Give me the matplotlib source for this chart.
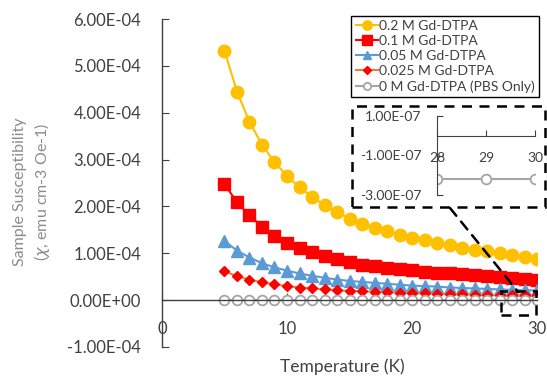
import matplotlib
matplotlib.use('agg')
import matplotlib.pyplot as plt
from matplotlib.patches import Rectangle, ConnectionPatch
from matplotlib.ticker import FuncFormatter

plt.rcParams['font.family'] = ['Lato', 'DejaVu Sans']

# Temperature sweep (K)
temperature = [5, 6, 7, 8, 9, 10, 11, 12, 13, 14, 15, 16, 17,
               18, 19, 20, 21, 22, 23, 24, 25, 26, 27, 28, 29, 30]

# susceptibility, emu cm-3 Oe-1
chi_02 = [5.33e-4, 4.45e-4, 3.81e-4, 3.32e-4, 2.95e-4, 2.65e-4, 2.41e-4, 2.21e-4, 2.03e-4,
          1.88e-4, 1.74e-4, 1.63e-4, 1.55e-4, 1.47e-4, 1.40e-4, 1.33e-4, 1.28e-4, 1.23e-4,
          1.17e-4, 1.12e-4, 1.08e-4, 1.04e-4, 1.01e-4, 0.97e-4, 0.92e-4, 0.87e-4]
chi_01 = [2.48e-4, 2.09e-4, 1.81e-4, 1.57e-4, 1.37e-4, 1.23e-4, 1.11e-4, 1.02e-4, 0.95e-4,
          0.87e-4, 0.81e-4, 0.76e-4, 0.72e-4, 0.69e-4, 0.66e-4, 0.64e-4, 0.61e-4, 0.59e-4,
          0.57e-4, 0.55e-4, 0.53e-4, 0.51e-4, 0.49e-4, 0.47e-4, 0.45e-4, 0.43e-4]
chi_005 = [1.26e-4, 1.06e-4, 0.91e-4, 0.79e-4, 0.70e-4, 0.63e-4, 0.57e-4, 0.52e-4, 0.48e-4,
           0.44e-4, 0.41e-4, 0.39e-4, 0.37e-4, 0.35e-4, 0.33e-4, 0.31e-4, 0.30e-4, 0.29e-4,
           0.27e-4, 0.26e-4, 0.25e-4, 0.24e-4, 0.23e-4, 0.22e-4, 0.21e-4, 0.21e-4]
chi_0025 = [0.62e-4, 0.51e-4, 0.44e-4, 0.38e-4, 0.34e-4, 0.30e-4, 0.27e-4, 0.25e-4, 0.23e-4,
            0.21e-4, 0.20e-4, 0.19e-4, 0.18e-4, 0.17e-4, 0.16e-4, 0.15e-4, 0.145e-4, 0.14e-4,
            0.13e-4, 0.125e-4, 0.12e-4, 0.115e-4, 0.11e-4, 0.11e-4, 0.105e-4, 0.10e-4]
chi_pbs = [-2.2e-7, -2.2e-7, -2.2e-7, -2.2e-7, -2.2e-7, -2.2e-7, -2.2e-7, -2.2e-7, -2.2e-7,
           -2.2e-7, -2.2e-7, -2.2e-7, -2.2e-7, -2.2e-7, -2.2e-7, -2.2e-7, -2.2e-7, -2.2e-7,
           -2.2e-7, -2.2e-7, -2.2e-7, -2.2e-7, -2.2e-7, -2.2e-7, -2.2e-7, -2.2e-7]

labels = ['0.2 M Gd-DTPA', '0.1 M Gd-DTPA', '0.05 M Gd-DTPA',
          '0.025 M Gd-DTPA', '0 M Gd-DTPA (PBS Only)']

dark = '#404040'
sci = FuncFormatter(lambda v, pos: f'{v:.2E}')

fig = plt.figure(figsize=(5.47, 3.83), dpi=100)
ax = fig.add_axes([0.296, 0.094, 0.686, 0.856])

ax.plot(temperature, chi_02, color='#FFC000', lw=1.5, marker='o', ms=9, label=labels[0])
ax.plot(temperature, chi_01, color='#FF0000', lw=1.5, marker='s', ms=9, label=labels[1])
ax.plot(temperature, chi_005, color='#5B9BD5', lw=1.5, marker='^', ms=8.5, label=labels[2])
ax.plot(temperature, chi_0025, color='#ED7D31', lw=1.5, marker='D', ms=5.5,
        mfc='#FF0000', mec='#FF0000', label=labels[3])
ax.plot(temperature, chi_pbs, color='#A5A5A5', lw=1.5, marker='o', ms=7,
        mfc='white', mec='#A5A5A5', mew=1.3, label=labels[4])

ax.set_xlim(0, 30)
ax.set_ylim(-1e-4, 6e-4)
ax.set_xticks([0, 10, 20, 30])
ax.set_yticks([-1e-4, 0, 1e-4, 2e-4, 3e-4, 4e-4, 5e-4, 6e-4])
ax.yaxis.set_major_formatter(sci)
ax.spines['top'].set_visible(False)
ax.spines['right'].set_visible(False)
ax.spines['bottom'].set_position(('data', 0))
for s in ('left', 'bottom'):
    ax.spines[s].set_color(dark)
    ax.spines[s].set_linewidth(1.0)
ax.tick_params(axis='y', direction='in', length=5, color=dark, labelcolor=dark,
               labelsize=12, pad=15)
ax.tick_params(axis='x', direction='in', length=5, color=dark, labelcolor=dark,
               labelsize=12, pad=15)

ax.set_ylabel('Sample Susceptibility\n($\\chi$, emu cm-3 Oe-1)', color='#8c8c8c',
              fontsize=11.5, linespacing=1.35)
ax.yaxis.set_label_coords(-0.292, 0.473)
ax.set_xlabel('Temperature (K)', color=dark, fontsize=12.5)
ax.xaxis.set_label_coords(0.48, -0.035)

leg = ax.legend(loc='upper right', bbox_to_anchor=(546 / 547, 1 - 9 / 383),
                bbox_transform=fig.transFigure, fontsize=10, frameon=True,
                fancybox=False, framealpha=1, handlelength=1.6, handletextpad=0.1,
                borderpad=0.3, labelspacing=0.22, markerscale=0.75)
leg.get_frame().set_edgecolor('black')
leg.get_frame().set_linewidth(1.0)
for t in leg.get_texts():
    t.set_color(dark)

# zoomed view of the PBS-only series
axin = fig.add_axes([437 / 547, 1 - 195 / 383, 98 / 547, 79 / 383])
axin.patch.set_visible(False)
axin.plot(temperature[-3:], chi_pbs[-3:], color='#A5A5A5', lw=1.5, marker='o', ms=7,
          mfc='white', mec='#A5A5A5', mew=1.3)
axin.set_xlim(28, 30)
axin.set_ylim(-3e-7, 1e-7)
axin.set_xticks([28, 29, 30])
axin.set_yticks([1e-7, -1e-7, -3e-7])
axin.yaxis.set_major_formatter(FuncFormatter(lambda v, pos: f'{v:.2E}'))
axin.spines['top'].set_visible(False)
axin.spines['right'].set_visible(False)
axin.spines['bottom'].set_position(('data', 0))
for s in ('left', 'bottom'):
    axin.spines[s].set_color(dark)
axin.tick_params(axis='both', direction='in', length=4, color=dark, labelcolor=dark,
                 labelsize=10)
axin.tick_params(axis='y', pad=11)
axin.tick_params(axis='x', pad=12)

# dashed frames and connector
fig.add_artist(Rectangle((352 / 547, 1 - 207 / 383), 193 / 547, 101 / 383,
                         transform=fig.transFigure, fill=False, ec='black',
                         lw=1.8, ls=(0, (4, 3))))
ax.add_patch(Rectangle((27.1, -0.32e-4), 2.8, 0.51e-4, fill=False, ec='black',
                       lw=1.8, ls=(0, (4, 3)), clip_on=False, zorder=5))
fig.add_artist(ConnectionPatch(xyA=(450 / 547, 1 - 208 / 383), coordsA='figure fraction',
                               xyB=(28.5, 0.17e-4), coordsB=ax.transData,
                               color='black', lw=1.8, ls=(0, (4, 3))))

fig.savefig('out.png', dpi=100)
